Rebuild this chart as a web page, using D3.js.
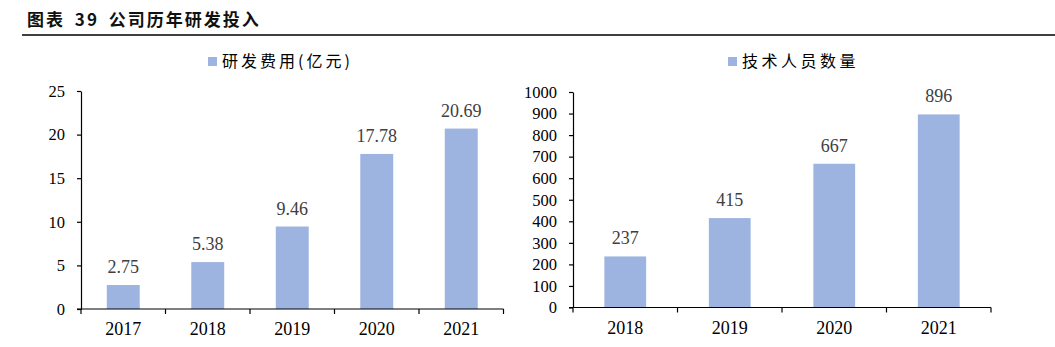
<!DOCTYPE html>
<html><head><meta charset="utf-8">
<script src="https://cdn.jsdelivr.net/npm/d3@7"></script>
<style>
body{margin:0;background:#fff;}
svg{display:block;}
</style></head>
<body><svg id="c" width="1055" height="347"></svg>
<script>
const titleText = "图表 39 公司历年研发投入";
const leftCategories = ["2017","2018","2019","2020","2021"];
const leftValues = [2.75, 5.38, 9.46, 17.78, 20.69];
const leftLabels = ["2.75","5.38","9.46","17.78","20.69"];
const leftTicks = [0,5,10,15,20,25];
const leftLegend = "研发费用(亿元)";
const rightCategories = ["2018","2019","2020","2021"];
const rightValues = [237, 415, 667, 896];
const rightTicks = [0,100,200,300,400,500,600,700,800,900,1000];
const rightLegend = "技术人员数量";

const barColor = "#9db4e0";
const serif = "'Liberation Serif','Times New Roman',serif";
const svg = d3.select("#c");

svg.append("text").attr("x",27).attr("y",26)
  .attr("font-family","'Noto Sans CJK SC',sans-serif").attr("font-weight","bold")
  .attr("font-size",17).attr("letter-spacing",2).attr("word-spacing",4)
  .attr("fill","#111").text(titleText);
svg.append("line").attr("x1",22).attr("x2",1055).attr("y1",35).attr("y2",35)
  .attr("stroke","#000").attr("stroke-width",1.5);

function panel(cfg){
  const x = d3.scaleBand().domain(cfg.cats).range([cfg.x0,cfg.x1]).paddingInner(cfg.pad).paddingOuter(cfg.pad/2);
  const xb = d3.scaleBand().domain(cfg.cats).range([cfg.x0,cfg.x1]);
  const y = d3.scaleLinear().domain([0,cfg.max]).range([cfg.y0,cfg.y1]);
  const g = svg.append("g");
  g.selectAll("rect.bar").data(cfg.vals).enter().append("rect")
    .attr("x",(d,i)=>x(cfg.cats[i])).attr("width",x.bandwidth())
    .attr("y",d=>y(d)).attr("height",d=>y(0)-y(d)).attr("fill",barColor);
  g.selectAll("text.vl").data(cfg.vals).enter().append("text")
    .attr("x",(d,i)=>x(cfg.cats[i])+x.bandwidth()/2).attr("y",d=>y(d)-12)
    .attr("text-anchor","middle").style("font-family",serif).style("font-size","18px")
    .attr("fill","#404040").text((d,i)=>cfg.labels[i]);
  const ya = g.append("g").attr("transform",`translate(${cfg.x0},0)`)
    .call(d3.axisLeft(y).tickValues(cfg.ticks).tickFormat(d3.format("d")).tickSize(4).tickPadding(cfg.tp).tickSizeOuter(0));
  ya.select(".domain").attr("stroke","#000").attr("stroke-width",1.2);
  ya.selectAll(".tick line").attr("stroke","#000").attr("stroke-width",1.2);
  ya.selectAll("text").style("font-family",serif).style("font-size","16.5px").attr("fill","#000");
  const xa = g.append("g").attr("transform",`translate(0,${cfg.y0})`);
  xa.append("line").attr("x1",cfg.x0-4).attr("x2",cfg.x1).attr("y1",0).attr("y2",0)
    .attr("stroke","#000").attr("stroke-width",1.2);
  const bounds = cfg.cats.map(c=>xb(c)).concat([cfg.x1]);
  xa.selectAll("line.tk").data(bounds).enter().append("line")
    .attr("x1",d=>d).attr("x2",d=>d).attr("y1",0).attr("y2",5)
    .attr("stroke","#000").attr("stroke-width",1.2);
  xa.selectAll("text").data(cfg.cats).enter().append("text")
    .attr("x",d=>xb(d)+xb.bandwidth()/2).attr("y",26)
    .attr("text-anchor","middle").style("font-family",serif).style("font-size","18px")
    .attr("fill","#000").text(d=>d);
  svg.append("rect").attr("x",cfg.lx).attr("y",57).attr("width",9).attr("height",9).attr("fill",barColor);
  svg.append("text").attr("x",cfg.lx+14).attr("y",67)
    .attr("font-family","'Noto Sans CJK SC',sans-serif").attr("font-size",16)
    .attr("letter-spacing",cfg.ls).attr("fill","#000").text(cfg.legend);
}

panel({cats:leftCategories, vals:leftValues, labels:leftLabels, ticks:leftTicks, max:25,
  x0:81, x1:503.5, y0:309, y1:91, pad:0.61, tp:12, lx:208, ls:3, legend:leftLegend});
panel({cats:rightCategories, vals:rightValues, labels:rightValues.map(String), ticks:rightTicks, max:1000,
  x0:573, x1:991, y0:307.5, y1:92, pad:0.6, tp:12, lx:728, ls:3.5, legend:rightLegend});
</script></body></html>
